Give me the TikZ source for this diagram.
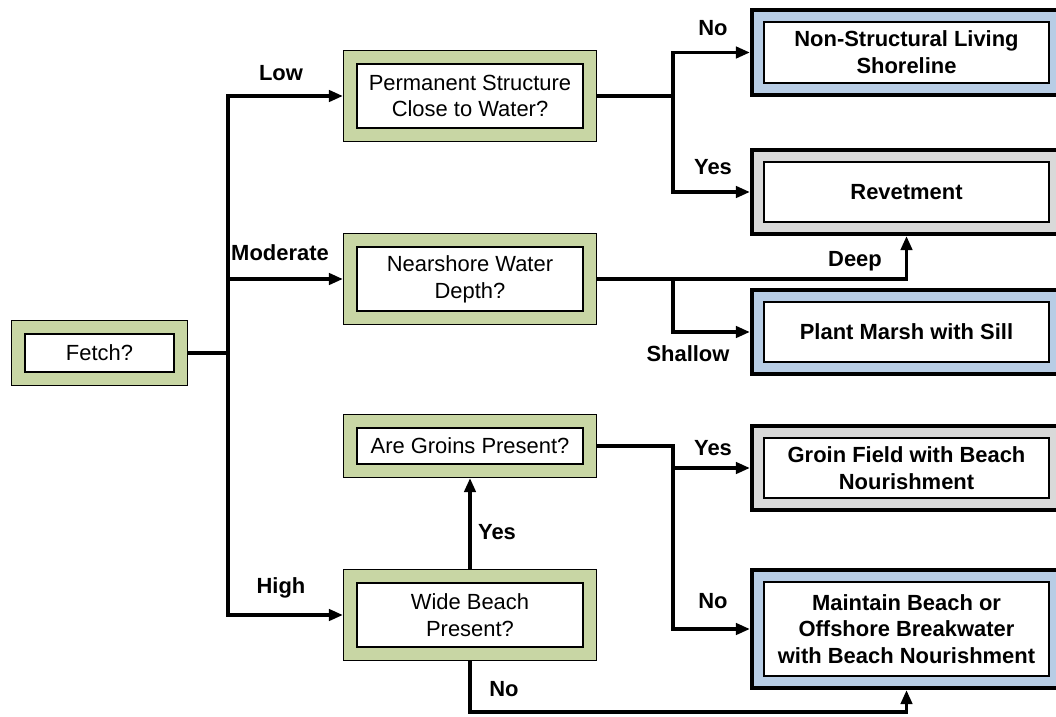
\documentclass[tikz,border=0pt]{standalone}
\usepackage{fontspec}
\setmainfont{Liberation Sans}
\usetikzlibrary{arrows.meta,calc}
\definecolor{boxgreen}{RGB}{200,214,164}
\definecolor{boxblue}{RGB}{184,205,229}
\definecolor{boxgray}{RGB}{217,217,217}
\tikzset{
         framebox/.style 2 args=
          {
           draw=black,fill=white,line width=0.8pt,outer sep=0.35cm,
           inner sep=0pt,align=center,
           preaction={draw=black,line width=0.7cm},
           preaction={draw=#1,line width=0.7cm-2*#2}
          },
         qbox/.style={framebox={boxgreen}{1pt},minimum width=5.65cm,
           font=\fontsize{15.6}{19}\selectfont},
         endbox/.style={framebox={#1}{2.8pt},minimum width=7.125cm,minimum height=1.5cm,
           font=\bfseries\fontsize{15.6}{19}\selectfont},
         lbl/.style={font=\bfseries\fontsize{15.6}{19}\selectfont},
         conn/.style={line width=2.8pt,-{Triangle[length=10pt,width=8pt]}},
         line/.style={line width=2.8pt}
        }
\begin{document}
\begin{tikzpicture}[x=0.025cm,y=-0.025cm]
\useasboundingbox(0,0)rectangle(1056,716);

%question boxes
\node[qbox,minimum width=3.725cm,minimum height=0.95cm](fetch)at(99.5,353){Fetch?};
\node[qbox,minimum height=1.6cm](perm)at(470,96){Permanent Structure\\Close to Water?};
\node[qbox,minimum height=1.6cm](near)at(470,279){Nearshore Water\\Depth?};
\node[qbox,minimum height=0.9cm](groin)at(470,446){Are Groins Present?};
\node[qbox,minimum height=1.6cm](wide)at(470,615){Wide Beach\\Present?};

%answer boxes
\node[endbox=boxblue,minimum height=1.525cm](nonst)at(906.5,52.5){Non-Structural Living\\Shoreline};
\node[endbox=boxgray](revet)at(906.5,192){Revetment};
\node[endbox=boxblue](marsh)at(906.5,332){Plant Marsh with Sill};
\node[endbox=boxgray](gfield)at(906.5,468){Groin Field with Beach\\Nourishment};
\node[endbox=boxblue,minimum height=2.35cm](maint)at(906.5,629){Maintain Beach or\\Offshore Breakwater\\with Beach Nourishment};

%junctions
\coordinate(trunk)at(228,354);
\coordinate(jA)at(673,96);
\coordinate(bot)at(906.5,712);

%fetch branches
\draw[line](fetch.east)--(trunk|-fetch.east);
\draw[conn](trunk|-near.west)|-(perm.west);
\draw[conn](trunk|-near.west)--(near.west);
\draw[conn](trunk|-near.west)|-(wide.west);

%structure
\draw[line](perm.east)--(jA);
\draw[conn](jA)|-(nonst.west);
\draw[conn](jA)|-(revet.west);

%depth
\draw[conn](near.east)-|(revet.south);
\draw[conn](jA|-near.east)|-(marsh.west);

%groins
\draw[conn](groin.east)--(jA|-groin.east)|-(gfield.west);
\draw[conn](jA|-groin.east)|-(maint.west);

%wide beach
\draw[conn](wide.north)--(groin.south);
\draw[conn](wide.south)|-(bot)--(maint.south);

%labels
\node[lbl](lLow)at(281,73){Low};
\node[lbl](lMod)at(280,253){Moderate};
\node[lbl](lHigh)at(281,588){High};
\node[lbl](lNoA)at(713,28){No};
\node[lbl](lYesA)at(713,167){Yes};
\node[lbl](lDeep)at(855,261){Deep};
\node[lbl](lShal)at(688,354){Shallow};
\node[lbl](lYesB)at(713,448){Yes};
\node[lbl](lNoB)at(713,601){No};
\node[lbl](lYesC)at(497,532){Yes};
\node[lbl](lNoC)at(504,689){No};

\end{tikzpicture}
\end{document}
